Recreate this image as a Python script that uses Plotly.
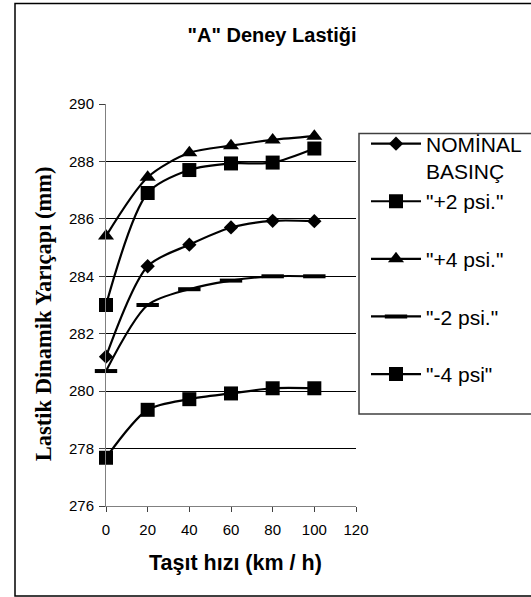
import plotly.graph_objects as go

speed = [0, 20, 40, 60, 80, 100]
nominal = [281.2, 284.35, 285.1, 285.7, 285.93, 285.92]
plus2 = [283.0, 286.9, 287.7, 287.93, 287.96, 288.45]
plus4 = [285.4, 287.45, 288.3, 288.55, 288.75, 288.88]
minus2 = [280.7, 283.0, 283.55, 283.85, 284.0, 284.0]
minus4 = [277.68, 279.35, 279.72, 279.92, 280.1, 280.1]

names = ['NOMİNAL<br>BASINÇ', '"+2 psi."<br>\u00a0', '"+4 psi."<br>\u00a0', '"-2 psi."<br>\u00a0', '"-4 psi"<br>\u00a0']
series = [nominal, plus2, plus4, minus2, minus4]
symbols = ['diamond', 'square', 'triangle-up', 'line-ew', 'square']
sizes = [11, 14, 14, 16, 14]

y_ticks = [276, 278, 280, 282, 284, 286, 288, 290]
grid_ticks = [278, 280, 282, 284, 286, 288]
x_ticks = [0, 20, 40, 60, 80, 100, 120]

fig = go.Figure()
for nm, ys, sym, sz in zip(names, series, symbols, sizes):
    marker = dict(symbol=sym, size=sz, color='black')
    if sym == 'line-ew':
        marker['line'] = dict(color='black', width=4)
    fig.add_trace(go.Scatter(
        x=speed, y=ys, name=nm, mode='lines+markers',
        line=dict(color='black', width=2.2, shape='spline', smoothing=0.8),
        marker=marker, cliponaxis=False, legendgroup=nm,
    ))

# gridline carrier (overlay axis)
fig.add_trace(go.Scatter(x=[None], y=[None], yaxis='y2', showlegend=False, hoverinfo='skip'))

L, R, T, B = 106, 175, 103.5, 91
W, H = 531, 597
pw, ph = W - L - R, H - T - B

def px(x):
    return (x - L) / pw

def py(y):
    return (H - B - y) / ph

fig.update_layout(
    width=W, height=H,
    margin=dict(l=L, r=R, t=T, b=B, autoexpand=False),
    paper_bgcolor='white', plot_bgcolor='white',
    font=dict(family='Liberation Sans, Arial, sans-serif', color='black'),
    title=dict(text='<b>"A" Deney Lastiği</b>', font=dict(size=20, family='Liberation Sans, Arial'),
               x=272 / W, xref='container', xanchor='center', y=1 - 35 / H, yref='container', yanchor='middle'),
    xaxis=dict(range=[0, 120], tickvals=x_ticks, ticks='outside', ticklen=5, tickcolor='#404040',
               showline=True, linecolor='#808080', linewidth=1, showgrid=False, zeroline=False,
               tickfont=dict(size=15), ticklabelstandoff=5),
    yaxis=dict(range=[276, 290], tickvals=y_ticks, ticks='outside', ticklen=6, tickcolor='#404040',
               showline=True, linecolor='#808080', linewidth=1, showgrid=False, zeroline=False,
               tickfont=dict(size=15), ticklabelstandoff=2),
    yaxis2=dict(range=[276, 290], overlaying='y', tickvals=grid_ticks, showgrid=True, gridcolor='black',
                gridwidth=1, showticklabels=False, ticks='', zeroline=False, showline=False, layer='below traces'),
    legend=dict(x=px(366), y=py(123), xanchor='left', yanchor='top', bgcolor='rgba(0,0,0,0)',
                borderwidth=0, font=dict(size=21), valign='top', itemwidth=50,
                tracegroupgap=0, traceorder='normal'),
    showlegend=True,
)

fig.add_annotation(text='<b>Taşıt hızı (km / h)</b>', x=px(235), y=py(563), xref='paper', yref='paper',
                   showarrow=False, font=dict(size=21.5, family='Liberation Sans, Arial'), yanchor='middle')
fig.add_annotation(text='<b>Lastik Dinamik Yarıçapı (mm)</b>', x=px(43), y=py(314), xref='paper', yref='paper',
                   showarrow=False, textangle=-90, font=dict(size=22.5, family='Liberation Serif, Times New Roman, serif'),
                   xanchor='center', yanchor='middle')

# outer frame and legend box
fig.add_shape(type='rect', xref='paper', yref='paper', x0=px(15), y0=py(596), x1=px(560), y1=py(3),
              line=dict(color='black', width=1.5), layer='below')
fig.add_shape(type='rect', xref='paper', yref='paper', x0=px(359), y0=py(414), x1=px(560), y1=py(133),
              line=dict(color='#404040', width=1.5), layer='below')

fig.write_html('out.html')
